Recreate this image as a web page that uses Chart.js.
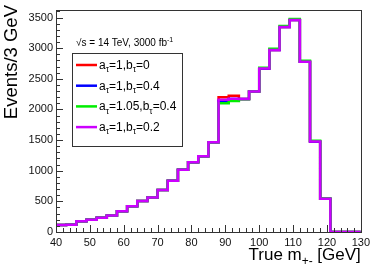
<!DOCTYPE html>
<html>
<head>
<meta charset="utf-8">
<script src="https://cdn.jsdelivr.net/npm/chart.js@4.4.1/dist/chart.umd.min.js"></script>
<style>
  html, body { margin: 0; padding: 0; background: #fff; }
  #wrap { width: 374px; height: 269px; position: relative; }
</style>
</head>
<body>
<div id="wrap"><canvas id="chart"></canvas></div>
<script>
// bin edges of the 3 GeV histogram (40..130)
const binEdges = [40, 43, 46, 49, 52, 55, 58, 61, 64, 67, 70, 73, 76, 79, 82, 85,
  88, 91, 94, 97, 100, 103, 106, 109, 112, 115, 118, 121, 124, 127, 130];

// events per bin, one array per hypothesis
const seriesA = [115, 118, 176, 200, 234, 271, 340, 420, 508, 562, 685, 838, 1018, 1140, 1237, 1465,
  2200, 2225, 2170, 2293, 2670, 2972, 3344, 3460, 2780, 1476, 541, 0, 0, 0];
const seriesB = [115, 118, 176, 200, 234, 271, 340, 420, 508, 562, 685, 838, 1018, 1140, 1237, 1465,
  2140, 2170, 2170, 2293, 2670, 2972, 3344, 3460, 2780, 1476, 541, 0, 0, 0];
const seriesC = [115, 118, 176, 200, 234, 271, 340, 420, 508, 562, 685, 838, 1018, 1140, 1237, 1465,
  2100, 2140, 2168, 2295, 2682, 2990, 3362, 3478, 2795, 1490, 545, 0, 0, 0];
const seriesD = [115, 118, 176, 200, 234, 271, 340, 420, 508, 562, 685, 838, 1018, 1140, 1237, 1465,
  2160, 2175, 2170, 2293, 2670, 2972, 3344, 3460, 2780, 1476, 541, 0, 0, 0];

const seriesNames = [
  [["a"], ["τ", "sub"], ["=1,b"], ["τ", "sub"], ["=0"]],
  [["a"], ["τ", "sub"], ["=1,b"], ["τ", "sub"], ["=0.4"]],
  [["a"], ["τ", "sub"], ["=1.05,b"], ["τ", "sub"], ["=0.4"]],
  [["a"], ["τ", "sub"], ["=1,b"], ["τ", "sub"], ["=0.2"]],
];
const seriesColors = ["#ff0000", "#0000ff", "#00ee00", "#cc00ff"];

const xTicks = [40, 50, 60, 70, 80, 90, 100, 110, 120, 130];
const yTicks = [0, 500, 1000, 1500, 2000, 2500, 3000, 3500];

const FONT = "'Liberation Sans', Arial, Helvetica, sans-serif";

function histPoints(values) {
  const pts = values.map((v, i) => ({ x: binEdges[i], y: v }));
  pts.push({ x: binEdges[binEdges.length - 1], y: values[values.length - 1] });
  return pts;
}

function drawRich(ctx, x, y, parts, size) {
  let cx = x;
  parts.forEach((p) => {
    if (p[1] === "sub") {
      ctx.font = (size * 0.7) + "px " + FONT;
      ctx.fillText(p[0], cx, y + size * 0.28);
    } else if (p[1] === "sup") {
      ctx.font = (size * 0.7) + "px " + FONT;
      ctx.fillText(p[0], cx, y - size * 0.42);
    } else {
      ctx.font = size + "px " + FONT;
      ctx.fillText(p[0], cx, y);
    }
    cx += ctx.measureText(p[0]).width;
  });
  return cx - x;
}

function richWidth(ctx, parts, size) {
  let w = 0;
  parts.forEach((p) => {
    ctx.font = (p[1] ? size * 0.7 : size) + "px " + FONT;
    w += ctx.measureText(p[0]).width;
  });
  return w;
}

const rootStyle = {
  id: "rootStyle",
  afterDraw(chart) {
    const ctx = chart.ctx;
    const area = chart.chartArea;
    const xs = chart.scales.x;
    const ys = chart.scales.y;
    ctx.save();

    // frame
    ctx.strokeStyle = "#333";
    ctx.lineWidth = 1;
    ctx.strokeRect(Math.round(area.left) + 0.5, Math.round(area.top) + 0.5,
      Math.round(area.right - area.left), Math.round(area.bottom - area.top));

    // ticks inside the frame
    ctx.beginPath();
    for (let v = 40; v <= 130; v += 2) {
      const px = Math.round(xs.getPixelForValue(v)) + 0.5;
      const len = v % 10 === 0 ? 7 : 4;
      ctx.moveTo(px, area.bottom);
      ctx.lineTo(px, area.bottom - len);
    }
    for (let v = 0; v <= 3600; v += 100) {
      const py = Math.round(ys.getPixelForValue(v)) + 0.5;
      const len = v % 500 === 0 ? 7 : 4;
      ctx.moveTo(area.left, py);
      ctx.lineTo(area.left + len, py);
    }
    ctx.stroke();

    ctx.fillStyle = "#000";
    ctx.textBaseline = "alphabetic";
    ctx.textAlign = "left";

    // x title
    const xt = [["True m"], ["+-", "sub"], [" [GeV]"]];
    const w = richWidth(ctx, xt, 17);
    drawRich(ctx, area.right - w, 260, xt, 17);

    // y title
    ctx.save();
    ctx.translate(17, 5);
    ctx.rotate(-Math.PI / 2);
    ctx.font = "18.5px " + FONT;
    ctx.textAlign = "right";
    ctx.fillText("Events/3 GeV", 0, 0);
    ctx.restore();

    // legend
    ctx.textAlign = "left";
    drawRich(ctx, 76, 46, [["√s = 14 TeV, 3000 fb"], ["-1", "sup"]], 10);
    ctx.strokeStyle = "#333";
    ctx.lineWidth = 1;
    ctx.strokeRect(72.5, 53.5, 110, 93);
    seriesNames.forEach((parts, i) => {
      const cy = 65 + i * 20.7;
      ctx.strokeStyle = seriesColors[i];
      ctx.lineWidth = 2.5;
      ctx.beginPath();
      ctx.moveTo(76, cy);
      ctx.lineTo(97, cy);
      ctx.stroke();
      ctx.fillStyle = "#000";
      drawRich(ctx, 99, cy + 3.8, parts, 12);
    });

    ctx.restore();
  },
};

const datasets = [seriesA, seriesB, seriesC, seriesD].map((vals, i) => ({
  data: histPoints(vals),
  borderColor: seriesColors[i],
  borderWidth: 2.5,
  stepped: true,
  pointRadius: 0,
  fill: false,
  order: 4 - i,
}));

new Chart(document.getElementById("chart"), {
  type: "line",
  data: { datasets: datasets },
  plugins: [rootStyle],
  options: {
    responsive: true,
    maintainAspectRatio: false,
    animation: false,
    layout: { padding: { top: 4, right: 11, left: 0, bottom: 0 } },
    plugins: { legend: { display: false }, tooltip: { enabled: false } },
    scales: {
      x: {
        type: "linear",
        min: 40,
        max: 130,
        afterBuildTicks: (s) => { s.ticks = xTicks.map((v) => ({ value: v })); },
        afterFit: (s) => { s.height = 37; },
        grid: { display: false, drawTicks: false },
        border: { display: false },
        ticks: {
          color: "#111",
          font: { family: FONT, size: 11 },
          padding: 4,
          maxRotation: 0,
          autoSkip: false,
          callback: (v) => String(v),
        },
      },
      y: {
        min: 0,
        max: 3630,
        afterBuildTicks: (s) => { s.ticks = yTicks.map((v) => ({ value: v })); },
        afterFit: (s) => { s.width = 56; },
        grid: { display: false, drawTicks: false },
        border: { display: false },
        ticks: {
          color: "#111",
          font: { family: FONT, size: 11 },
          padding: 3,
          autoSkip: false,
          callback: (v) => String(v),
        },
      },
    },
  },
});
</script>
</body>
</html>
